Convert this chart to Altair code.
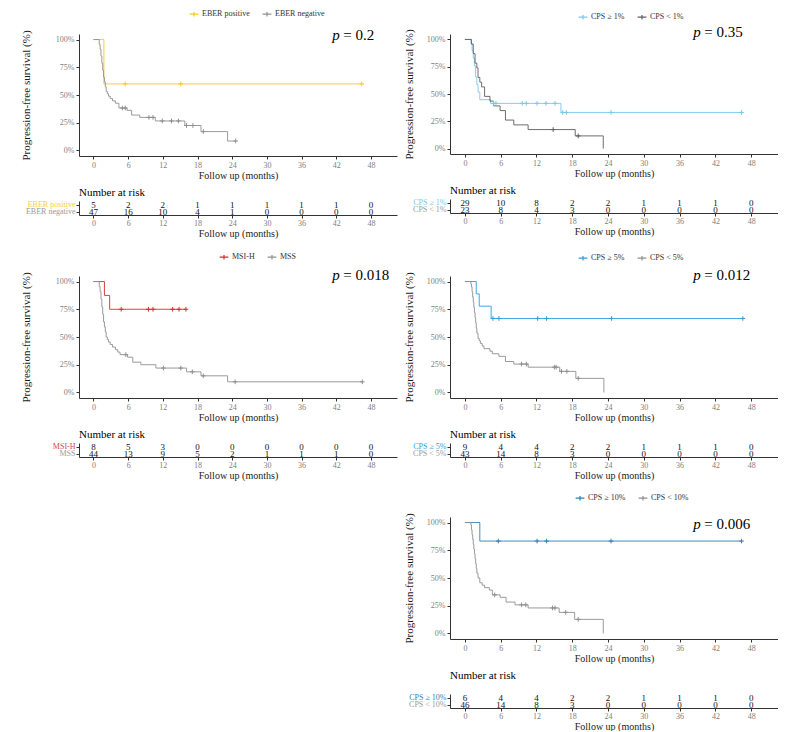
import altair as alt
import pandas as pd

FONT = "Liberation Serif"
TICKS = [0, 6, 12, 18, 24, 30, 36, 42, 48]
Y_TICKS = [0, 25, 50, 75, 100]
RISK_TIMES = [0, 6, 12, 18, 24, 30, 36, 42, 48]
X_DOMAIN = [-2.5, 52.5]
Y_DOMAIN = [-5, 105]
PLUS = "M-1,0H1M0,-1V1"
LEG_SYMBOL = "M-1.6,0H1.6M0,-0.8V0.8"

# ---------------- EBER ----------------
EBER_GROUPS = ["EBER positive", "EBER negative"]
EBER_COLORS = ["#F7CB15", "#8F8F8F"]
EBER_LABEL_COLORS = ["#F5D033", "#9A9A9A"]
EBER_POS_T = [0, 1.8]
EBER_POS_S = [100, 60]
EBER_POS_END = 46.4
EBER_POS_CENS = [5.5, 15.1, 46.4]
EBER_NEG_T = [0, 1.0, 1.15, 1.3, 1.45, 1.6, 1.75, 1.9, 2.05, 2.2, 2.4, 2.6, 2.9, 3.3, 3.8, 4.4, 5.8, 6.6, 8.0, 10.7, 15.8, 18.6, 23.2]
EBER_NEG_S = [100, 95.7, 91.5, 85.1, 78.7, 72.3, 66.0, 61.7, 57.4, 53.2, 51.1, 48.9, 46.8, 44.7, 42.6, 38.3, 36.2, 31.9, 29.8, 26.6, 22.5, 17.0, 8.5]
EBER_NEG_END = 24.6
EBER_NEG_CENS = [5.0, 5.5, 9.6, 10.3, 11.9, 13.5, 14.7, 16.1, 17.2, 19.0, 24.6]
EBER_RISK_POS = [5, 2, 2, 1, 1, 1, 1, 1, 0]
EBER_RISK_NEG = [47, 16, 10, 4, 1, 0, 0, 0, 0]
EBER_P = "= 0.2"
EBER_P_AT = [41.3, 104.5]

# ---------------- CPS 1% ----------------
CPS1_GROUPS = ["CPS \u2265 1%", "CPS < 1%"]
CPS1_COLORS = ["#7DC6E8", "#5E5E5E"]
CPS1_LABEL_COLORS = ["#7DC6E8", "#9A9A9A"]
CPS1_POS_T = [0, 1.0, 1.2, 1.4, 1.6, 1.8, 2.0, 2.2, 2.5, 4.3, 16.1]
CPS1_POS_S = [100, 96.6, 89.7, 82.8, 75.9, 65.5, 58.6, 51.7, 44.8, 41.4, 33.1]
CPS1_POS_END = 46.4
CPS1_POS_CENS = [4.8, 5.2, 9.6, 10.3, 12.1, 13.6, 15.1, 16.4, 17.0, 24.5, 46.4]
CPS1_NEG_T = [0, 1.1, 1.4, 1.7, 2.0, 2.2, 2.5, 2.8, 3.3, 4.2, 4.8, 5.9, 6.8, 8.2, 10.6, 18.5, 23.2]
CPS1_NEG_S = [100, 95.7, 87.0, 78.3, 73.9, 65.2, 60.9, 56.5, 47.8, 43.5, 39.1, 34.8, 26.1, 21.7, 17.4, 11.6, 0]
CPS1_NEG_END = 23.2
CPS1_NEG_CENS = [14.8, 19.0]
CPS1_RISK_POS = [29, 10, 8, 2, 2, 1, 1, 1, 0]
CPS1_RISK_NEG = [23, 8, 4, 3, 0, 0, 0, 0, 0]
CPS1_P = "= 0.35"
CPS1_P_AT = [38.3, 107]

# ---------------- MSI ----------------
MSI_GROUPS = ["MSI-H", "MSS"]
MSI_COLORS = ["#D92B2B", "#8F8F8F"]
MSI_LABEL_COLORS = ["#D0455A", "#9A9A9A"]
MSIH_T = [0, 1.9, 2.8]
MSIH_S = [100, 87.5, 75]
MSIH_END = 16.0
MSIH_CENS = [4.8, 9.5, 10.3, 13.7, 14.8, 16.0]
MSS_T = [0, 1.0, 1.15, 1.3, 1.45, 1.6, 1.75, 1.9, 2.05, 2.2, 2.4, 2.6, 2.9, 3.3, 3.8, 4.2, 4.6, 5.9, 6.8, 8.2, 10.8, 16.1, 18.6, 23.2]
MSS_S = [100, 95.5, 90.9, 84.1, 77.3, 70.5, 63.6, 59.1, 54.5, 50.0, 47.7, 45.5, 43.2, 40.9, 38.6, 36.4, 34.1, 31.8, 27.3, 25.0, 22.0, 18.6, 15.0, 9.6]
MSS_END = 46.5
MSS_CENS = [5.6, 12.1, 15.1, 17.1, 19.0, 24.5, 46.5]
MSIH_RISK = [8, 5, 3, 0, 0, 0, 0, 0, 0]
MSS_RISK = [44, 13, 9, 5, 2, 1, 1, 1, 0]
MSI_P = "= 0.018"
MSI_P_AT = [41.3, 106]

# ---------------- CPS 5% ----------------
CPS5_GROUPS = ["CPS \u2265 5%", "CPS < 5%"]
CPS5_COLORS = ["#2D9CDB", "#8F8F8F"]
CPS5_LABEL_COLORS = ["#2D9CDB", "#9A9A9A"]
CPS5_POS_T = [0, 1.9, 2.4, 4.4]
CPS5_POS_S = [100, 88.9, 77.8, 66.7]
CPS5_POS_END = 46.6
CPS5_POS_CENS = [4.7, 5.7, 12.2, 13.7, 24.6, 46.6]
CPS5_NEG_T = [0, 1.0, 1.1, 1.2, 1.3, 1.4, 1.5, 1.6, 1.7, 1.8, 1.9, 2.0, 2.2, 2.4, 2.6, 2.9, 3.2, 4.2, 4.6, 5.7, 6.8, 8.2, 10.6, 15.9, 18.6, 23.3]
CPS5_NEG_S = [100, 97.7, 95.3, 90.7, 86.0, 81.4, 76.7, 72.1, 67.4, 62.8, 58.1, 53.5, 48.8, 46.5, 44.2, 41.9, 39.5, 37.2, 34.9, 32.6, 27.9, 25.6, 22.8, 19.0, 12.7, 0]
CPS5_NEG_END = 23.3
CPS5_NEG_CENS = [9.5, 10.3, 15.0, 15.3, 16.2, 17.1, 19.0]
CPS5_RISK_POS = [9, 4, 4, 2, 2, 1, 1, 1, 0]
CPS5_RISK_NEG = [43, 14, 8, 3, 0, 0, 0, 0, 0]
CPS5_P = "= 0.012"
CPS5_P_AT = [38.3, 106]

# ---------------- CPS 10% ----------------
CPS10_GROUPS = ["CPS \u2265 10%", "CPS < 10%"]
CPS10_COLORS = ["#2F7FB4", "#8F8F8F"]
CPS10_LABEL_COLORS = ["#2F7FB4", "#9A9A9A"]
CPS10_POS_T = [0, 2.5]
CPS10_POS_S = [100, 83.3]
CPS10_POS_END = 46.4
CPS10_POS_CENS = [5.6, 12.1, 13.7, 24.5, 46.4]
CPS10_NEG_T = [0, 1.0, 1.1, 1.2, 1.3, 1.4, 1.5, 1.6, 1.7, 1.8, 1.9, 2.0, 2.2, 2.5, 2.9, 3.3, 4.1, 4.6, 5.9, 6.9, 8.4, 10.6, 15.8, 18.4, 23.2]
CPS10_NEG_S = [100, 97.8, 93.5, 89.1, 84.8, 80.4, 76.1, 71.7, 67.4, 63.0, 58.7, 54.3, 50.0, 45.7, 43.5, 41.3, 39.1, 34.8, 32.6, 28.3, 25.8, 23.0, 19.0, 12.7, 0]
CPS10_NEG_END = 23.2
CPS10_NEG_CENS = [5.0, 9.5, 10.2, 14.7, 15.1, 16.9, 19.0]
CPS10_RISK_POS = [6, 4, 4, 2, 2, 1, 1, 1, 0]
CPS10_RISK_NEG = [46, 14, 8, 3, 0, 0, 0, 0, 0]
CPS10_P = "= 0.006"
CPS10_P_AT = [38.3, 99]


def surv_at(ts, ss, t):
    v = ss[0]
    for ti, si in zip(ts, ss):
        if ti <= t:
            v = si
    return v


def panel(groups, colors, label_colors, curves, censors, risk, p_text, p_at,
          width, km_height, ytitle_pad, legend_xy, risk_gap=45, risk_title_offset=3):
    rows = []
    for g, (ts, ss, end) in zip(groups, curves):
        pts = list(zip(ts, ss))
        if end > ts[-1]:
            pts.append((end, ss[-1]))
        for i, (t, s) in enumerate(pts):
            rows.append({"group": g, "t": t, "s": s, "k": i})
    cdf = pd.DataFrame(rows)
    crow = []
    for g, (ts, ss, end), cs in zip(groups, curves, censors):
        for c in cs:
            crow.append({"group": g, "t": c, "s": surv_at(ts, ss, c)})
    cens = pd.DataFrame(crow)

    color = alt.Color(
        "group:N",
        scale=alt.Scale(domain=groups, range=colors),
        legend=alt.Legend(orient="none", legendX=legend_xy[0], legendY=legend_xy[1],
                          direction="horizontal", title=None, symbolType=LEG_SYMBOL,
                          symbolSize=30, symbolStrokeWidth=1.2, labelFont=FONT,
                          labelFontSize=8, labelColor="#333333", columnPadding=10,
                          labelOffset=4),
    )
    xs = alt.X("t:Q", scale=alt.Scale(domain=X_DOMAIN, nice=False, zero=False),
               axis=alt.Axis(values=TICKS, title="Follow up (months)", titleFontSize=10,
                             labelPadding=2, titlePadding=1, labelOverlap=False))
    ys = alt.Y("s:Q", scale=alt.Scale(domain=Y_DOMAIN, nice=False, zero=False),
               axis=alt.Axis(values=Y_TICKS, labelExpr="datum.value + '%'",
                             title="Progression-free survival (%)", titleFontSize=11,
                             titlePadding=ytitle_pad, labelPadding=2, labelOverlap=False))
    lines = alt.Chart(cdf).mark_line(interpolate="step-after", strokeWidth=0.9).encode(
        x=xs, y=ys, color=color, order="k:Q", detail="group:N")
    marks = alt.Chart(cens).mark_point(shape=PLUS, filled=False, size=22, strokeWidth=1,
                                       opacity=1).encode(x=xs, y=ys, color=color)
    pdf = pd.DataFrame({"t": [p_at[0]], "s": [p_at[1]]})
    p1 = alt.Chart(pdf).mark_text(text="p", font=FONT, fontSize=15, fontStyle="italic",
                                  align="left", baseline="middle", color="black").encode(
        x=xs, y=ys)
    p2 = alt.Chart(pdf).mark_text(text=p_text, font=FONT, fontSize=15, align="left",
                                  baseline="middle", dx=11, color="black").encode(
        x=xs, y=ys)
    km = alt.layer(lines, marks, p1, p2).properties(width=width, height=km_height)

    rdf = pd.DataFrame([{"group": g, "time": t, "n": n}
                        for g, ns in zip(groups, risk) for t, n in zip(RISK_TIMES, ns)])
    cond = {"condition": {"test": "datum.value == '%s'" % groups[0], "value": label_colors[0]},
            "value": label_colors[1]}
    rt = alt.Chart(rdf, title=alt.TitleParams("Number at risk", anchor="start", frame="group",
                                              font=FONT, fontSize=11, fontWeight="normal",
                                              color="black", offset=risk_title_offset)).mark_text(
        font=FONT, fontSize=9, color="#111111").encode(
        x=alt.X("time:Q", scale=alt.Scale(domain=X_DOMAIN, nice=False, zero=False),
                axis=alt.Axis(values=TICKS, title="Follow up (months)", titleFontSize=10,
                              labelPadding=1, titlePadding=1, labelOverlap=False)),
        y=alt.Y("group:N", scale=alt.Scale(domain=groups, paddingInner=0, paddingOuter=0),
                axis=alt.Axis(title=None, labelColor=cond, labelFontSize=8, labelPadding=1,
                              labelOverlap=False)),
        text="n:Q",
    ).properties(width=width, height=14)

    return alt.vconcat(km, rt, spacing=risk_gap, bounds="flush").resolve_scale(
        x="independent", y="independent", color="independent")


LW, RW = 318, 328

p_eber = panel(EBER_GROUPS, EBER_COLORS, EBER_LABEL_COLORS,
               [(EBER_POS_T, EBER_POS_S, EBER_POS_END), (EBER_NEG_T, EBER_NEG_S, EBER_NEG_END)],
               [EBER_POS_CENS, EBER_NEG_CENS], [EBER_RISK_POS, EBER_RISK_NEG],
               EBER_P, EBER_P_AT, LW, 122, 24, [111, -24])
p_msi = panel(MSI_GROUPS, MSI_COLORS, MSI_LABEL_COLORS,
              [(MSIH_T, MSIH_S, MSIH_END), (MSS_T, MSS_S, MSS_END)],
              [MSIH_CENS, MSS_CENS], [MSIH_RISK, MSS_RISK],
              MSI_P, MSI_P_AT, LW, 122, 24, [141, -23])
p_cps1 = panel(CPS1_GROUPS, CPS1_COLORS, CPS1_LABEL_COLORS,
               [(CPS1_POS_T, CPS1_POS_S, CPS1_POS_END), (CPS1_NEG_T, CPS1_NEG_S, CPS1_NEG_END)],
               [CPS1_POS_CENS, CPS1_NEG_CENS], [CPS1_RISK_POS, CPS1_RISK_NEG],
               CPS1_P, CPS1_P_AT, RW, 120, 12, [129, -21])
p_cps5 = panel(CPS5_GROUPS, CPS5_COLORS, CPS5_LABEL_COLORS,
               [(CPS5_POS_T, CPS5_POS_S, CPS5_POS_END), (CPS5_NEG_T, CPS5_NEG_S, CPS5_NEG_END)],
               [CPS5_POS_CENS, CPS5_NEG_CENS], [CPS5_RISK_POS, CPS5_RISK_NEG],
               CPS5_P, CPS5_P_AT, RW, 122, 12, [129, -22])
p_cps10 = panel(CPS10_GROUPS, CPS10_COLORS, CPS10_LABEL_COLORS,
                [(CPS10_POS_T, CPS10_POS_S, CPS10_POS_END), (CPS10_NEG_T, CPS10_NEG_S, CPS10_NEG_END)],
                [CPS10_POS_CENS, CPS10_NEG_CENS], [CPS10_RISK_POS, CPS10_RISK_NEG],
                CPS10_P, CPS10_P_AT, RW, 122, 12, [126, -23], risk_gap=55, risk_title_offset=13)

RES = dict(x="independent", y="independent", color="independent")
left = alt.vconcat(p_eber, p_msi, spacing=15).resolve_scale(**RES)
right_low = alt.vconcat(p_cps5, p_cps10, spacing=14).resolve_scale(**RES)
right = alt.vconcat(p_cps1, right_low, spacing=18).resolve_scale(**RES)

chart = alt.hconcat(left, right, spacing=6).resolve_scale(**RES).properties(
    padding={"left": 12, "top": 2, "right": 0, "bottom": 0}
).configure_view(stroke=None).configure_axis(
    grid=False, domainColor="#333333", domainWidth=1, tickColor="#333333", tickSize=3,
    labelFont=FONT, labelFontSize=8, labelColor="#808080", titleFont=FONT,
    titleFontWeight="normal", titleColor="#1a1a1a"
).configure_legend(labelFont=FONT)

chart.save("out.html", embed_options={"renderer": "svg", "actions": False})
